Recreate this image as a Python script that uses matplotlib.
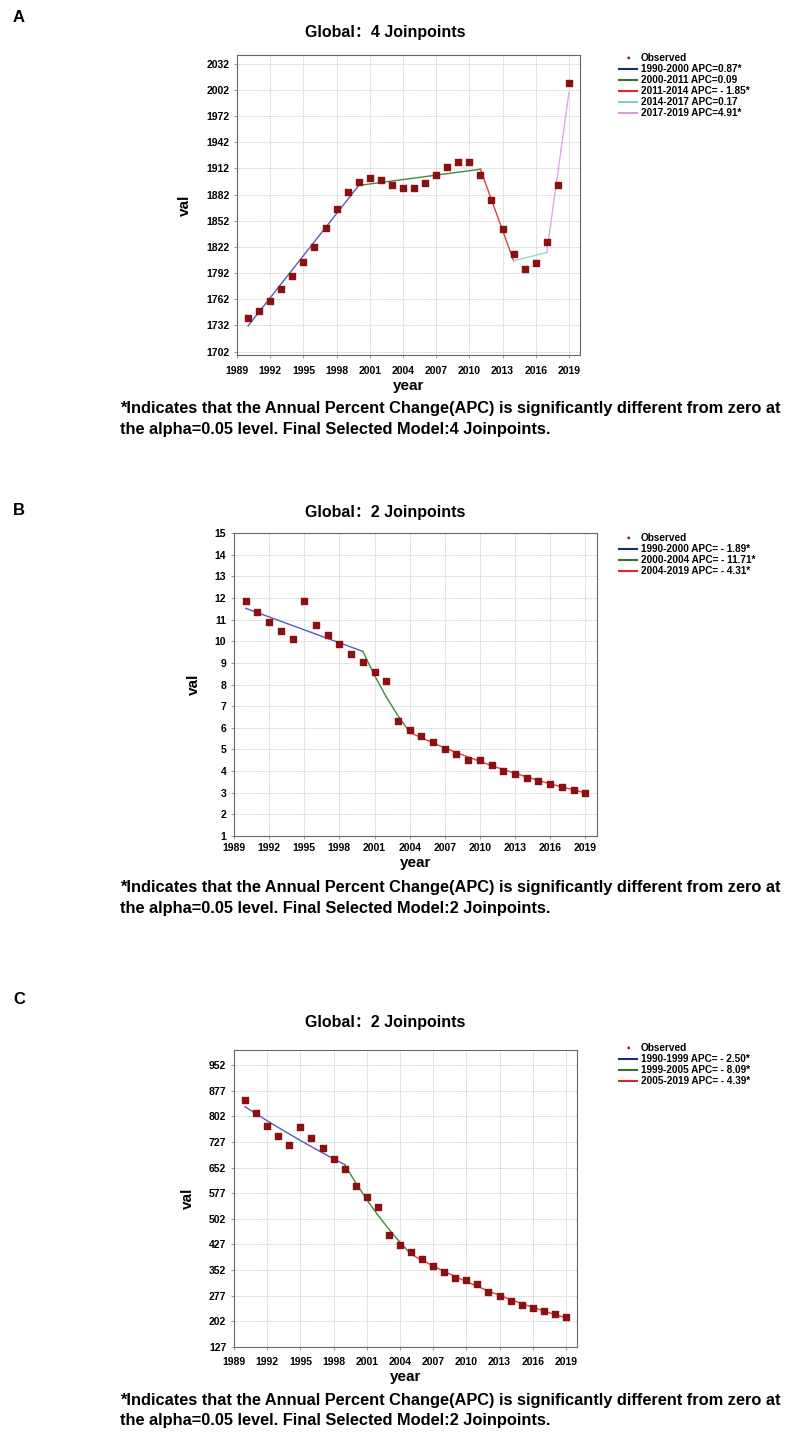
# Joinpoint regression panels (A, B, C)
import numpy as np
import matplotlib.pyplot as plt

plt.rcParams['font.family'] = ['Liberation Sans', 'Noto Sans CJK SC', 'DejaVu Sans']

years = list(range(1990, 2020))

# Panel A observed values
obs_a = [1739.9, 1747.9, 1759.4, 1773.5, 1788.8, 1804.1, 1821.7, 1843.1, 1865.3, 1884.4,
         1896.6, 1900.9, 1898.2, 1893.2, 1889.4, 1889.4, 1895.1, 1904.3, 1913.5, 1918.8,
         1918.8, 1903.9, 1875.2, 1842.0, 1813.3, 1796.5, 1803.7, 1827.8, 1892.8, 2009.8]
# Panel A fitted segments (joinpoint years / fitted values)
seg_years_a = [[1990, 2000], [2000, 2011], [2011, 2014], [2014, 2017], [2017, 2019]]
seg_vals_a = [[1731.4, 1892.4], [1892.4, 1911.0], [1911.0, 1806.0], [1806.0, 1815.5], [1815.5, 1999.0]]
labels_a = ['1990-2000 APC=0.87*', '2000-2011 APC=0.09', '2011-2014 APC= - 1.85*',
            '2014-2017 APC=0.17', '2017-2019 APC=4.91*']

# Panel B
obs_b = [11.86, 11.37, 10.88, 10.48, 10.09, 11.86, 10.74, 10.31, 9.87, 9.41,
         9.06, 8.59, 8.16, 6.32, 5.91, 5.63, 5.34, 5.03, 4.78, 4.53,
         4.50, 4.30, 4.01, 3.85, 3.70, 3.56, 3.42, 3.28, 3.11, 2.99]
seg_years_b = [[1990, 2000], [2000, 2001, 2002, 2003, 2004], list(range(2004, 2020))]
seg_vals_b = [[11.52, 9.53], [9.53, 8.42, 7.43, 6.56, 5.79],
              [5.79, 5.54, 5.30, 5.07, 4.85, 4.65, 4.45, 4.25, 4.07, 3.90, 3.73, 3.57,
               3.41, 3.27, 3.13, 2.99]]
labels_b = ['1990-2000 APC= - 1.89*', '2000-2004 APC= - 11.71*', '2004-2019 APC= - 4.31*']

# Panel C
obs_c = [849.5, 810.5, 774.3, 745.0, 718.7, 769.5, 737.2, 708.0, 676.7, 647.4,
         598.6, 565.4, 536.1, 454.1, 426.7, 404.3, 384.8, 364.3, 345.7, 329.1,
         324.2, 310.6, 288.1, 275.4, 262.7, 251.0, 242.2, 233.4, 222.7, 215.8]
seg_years_c = [list(range(1990, 2000)), list(range(1999, 2006)), list(range(2005, 2020))]
seg_vals_c = [[830.0, 809.3, 789.0, 769.3, 750.1, 731.3, 713.0, 695.2, 677.8, 660.9],
              [660.9, 607.5, 558.3, 513.1, 471.6, 433.5, 398.4],
              [398.4, 380.9, 364.2, 348.2, 332.9, 318.3, 304.3, 290.9, 278.1, 265.9,
               254.2, 243.1, 232.4, 222.2, 212.4]]
labels_c = ['1990-1999 APC= - 2.50*', '1999-2005 APC= - 8.09*', '2005-2019 APC= - 4.39*']

yticks_a = [1702, 1732, 1762, 1792, 1822, 1852, 1882, 1912, 1942, 1972, 2002, 2032]
yticks_b = list(range(1, 16))
yticks_c = [127, 202, 277, 352, 427, 502, 577, 652, 727, 802, 877, 952]
xticks = list(range(1989, 2020, 3))

line_colors = ['#5a5ab8', '#3e8a3e', '#d84040', '#8fd8d8', '#e0a8e0']
legend_colors = ['#1f2a7a', '#2e6e2e', '#d02a2a', '#80cccc', '#d8a0d8']

W, H = 790, 1437
fig = plt.figure(figsize=(W / 100, H / 100), dpi=100)


def px(l, t, r, b):
    return [l / W, 1 - b / H, (r - l) / W, (b - t) / H]


panels = [
    ('A', 'Global\uff1a4 Joinpoints', px(237, 55, 580, 355), obs_a, seg_years_a, seg_vals_a,
     labels_a, yticks_a, (1698, 2042), 18, 33, 409, '4', 6),
    ('B', 'Global\uff1a2 Joinpoints', px(234, 533, 597, 836), obs_b, seg_years_b, seg_vals_b,
     labels_b, yticks_b, (1, 15), 510, 513, 888, '2', 3),
    ('C', 'Global\uff1a2 Joinpoints', px(234, 1050, 577, 1347), obs_c, seg_years_c, seg_vals_c,
     labels_c, yticks_c, (127, 996), 1000, 1023, 1400, '2', 5),
]

for letter, title, rect, obs, sy, sv, labs, yt, ylim, ly, ty, fy, njp, tpad in panels:
    ax = fig.add_axes(rect)
    ax.scatter(years, obs, marker='s', s=16, color='#8b1010', zorder=3)
    for k in range(len(sy)):
        ax.plot(sy[k], sv[k], color=line_colors[k], lw=1.0, zorder=2)
    ax.set_xlim(1989, 2020)
    ax.set_ylim(*ylim)
    ax.set_xticks(xticks)
    ax.set_yticks(yt)
    ax.tick_params(labelsize=7.5, length=2, width=0.6, color='#888888')
    ax.tick_params(axis='x', pad=tpad)
    for t in ax.get_xticklabels() + ax.get_yticklabels():
        t.set_fontweight('bold')
    ax.grid(True, color='#c0c0c0', ls=(0, (1, 1)), lw=0.6)
    for s in ax.spines.values():
        s.set_color('#666666')
        s.set_linewidth(0.8)
    ax.set_xlabel('year', fontsize=11, fontweight='bold', labelpad=2)
    ax.set_ylabel('val', fontsize=11, fontweight='bold', labelpad=10)

    # legend to the right of the plot
    lx0, lx1, tx = 619 / W, 637 / W, 641 / W
    yy = H - (ty + 25)
    fig.text(628 / W, yy / H, '\u25aa', color='#8b1010', fontsize=7, ha='center', va='center')
    fig.text(tx, yy / H, 'Observed', fontsize=7.2, fontweight='bold', va='center')
    for k, lab in enumerate(labs):
        yk = (yy - 11 * (k + 1)) / H
        fig.add_artist(plt.Line2D([lx0, lx1], [yk, yk], color=legend_colors[k], lw=1.5))
        fig.text(tx, yk, lab, fontsize=7.2, fontweight='bold', va='center')

    fig.text(385 / W, 1 - ty / H, title, fontsize=11.5, fontweight='bold', ha='center', va='center')
    fig.text(13 / W, 1 - ly / H, letter, fontsize=12, fontweight='bold', ha='left', va='center')
    fig.text(120 / W, 1 - fy / H,
             '*Indicates that the Annual Percent Change(APC) is significantly different from zero at',
             fontsize=11.8, fontweight='bold', ha='left', va='center')
    fig.text(120 / W, 1 - (fy + 20) / H,
             'the alpha=0.05 level. Final Selected Model:' + njp + ' Joinpoints.',
             fontsize=11.8, fontweight='bold', ha='left', va='center')

fig.savefig('out.png', dpi=100)
